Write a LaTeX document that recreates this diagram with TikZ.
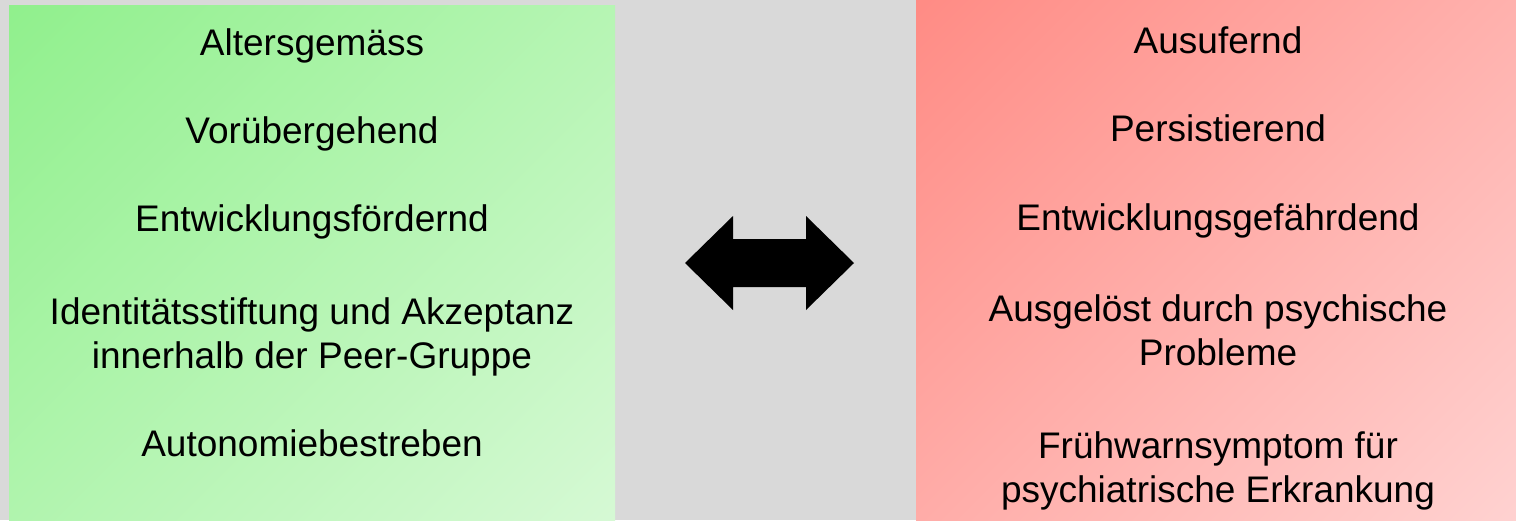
\documentclass[tikz,border=0pt]{standalone}
\usepackage{fontspec}
\setmainfont{Liberation Sans}
\definecolor{bggray}{HTML}{D9D9D9}
\definecolor{greenA}{HTML}{82EE7E}
\definecolor{greenB}{HTML}{E4FBE3}
\definecolor{redA}{HTML}{FF7D75}
\definecolor{redB}{HTML}{FFE0E0}
% linear corner-to-corner gradients (no flat end zones)
\pgfdeclareverticalshading{greenfade}{100bp}{color(0bp)=(greenB); color(100bp)=(greenA)}
\pgfdeclareverticalshading{redfade}{100bp}{color(0bp)=(redB); color(100bp)=(redA)}
\tikzset{
  item/.style={anchor=base, inner sep=0pt, align=center,
    font=\fontsize{37}{44}\selectfont, text=black},
}
\begin{document}
\begin{tikzpicture}[x=1pt,y=-1pt]
  % canvas
  \fill[bggray] (0,0) rectangle (1516,520);
  \useasboundingbox (0,0) rectangle (1516,520);
  % normal (green) and pathological (red) panels
  \shade[shading=greenfade, shading angle=45] (9,5) rectangle (615,520);
  \shade[shading=redfade, shading angle=45] (916,0) rectangle (1516,520);

  % left column (multi-line nodes sit on the baseline of their last line)
  \node[item] (l1) at (312,55) {Altersgemäss};
  \node[item] (l2) at (312,143) {Vorübergehend};
  \node[item] (l3) at (312,231) {Entwicklungsfördernd};
  \node[item] (l4) at (312,368) {Identitätsstiftung und Akzeptanz\\innerhalb der Peer-Gruppe};
  \node[item] (l5) at (312,456) {Autonomiebestreben};

  % right column
  \node[item] (r1) at (1218,53) {Ausufernd};
  \node[item] (r2) at (1218,141) {Persistierend};
  \node[item] (r3) at (1218,230) {Entwicklungsgefährdend};
  \node[item] (r4) at (1218,365) {Ausgelöst durch psychische\\Probleme};
  \node[item] (r5) at (1218,502) {Frühwarnsymptom für\\psychiatrische Erkrankung};

  % double-headed block arrow
  \fill[black] (685,263) -- (733,216) -- (733,239) -- (806,239) -- (806,216)
    -- (854,263) -- (806,310) -- (806,287) -- (733,287) -- (733,310) -- cycle;
\end{tikzpicture}
\end{document}
